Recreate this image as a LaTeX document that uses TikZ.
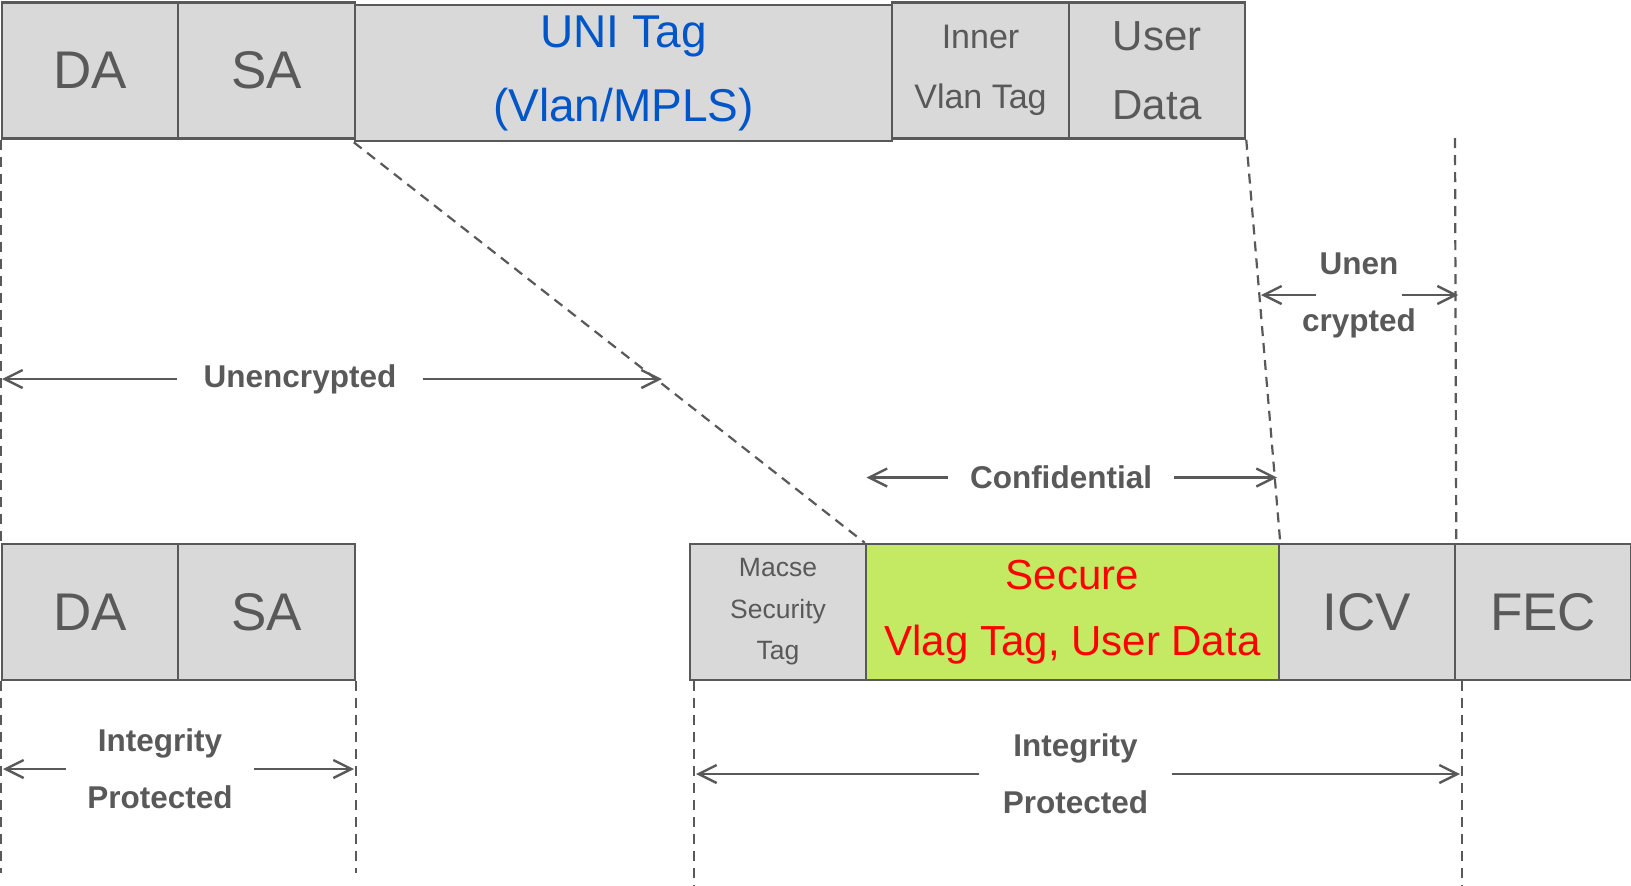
\documentclass[tikz,border=0pt]{standalone}
\usepackage{fontspec}
\setmainfont{Liberation Sans}
\usetikzlibrary{arrows.meta}
\definecolor{linegray}{HTML}{595959}
\definecolor{boxgray}{HTML}{D9D9D9}
\definecolor{secgreen}{HTML}{C3EA62}
\definecolor{uniblue}{HTML}{0055C8}
\begin{document}
\begin{tikzpicture}[x=0.5pt,y=-0.5pt,
	field/.style={draw=linegray,fill=boxgray,line width=1.25pt,inner sep=0pt,minimum height=68pt,text=linegray,align=center},
	big/.style={font=\fontsize{26.5}{30}\selectfont},
	guide/.style={draw=linegray,line width=1.1pt,dash pattern=on 5pt off 3.5pt},
	dimline/.style={draw=linegray,line width=1.2pt,-{Straight Barb[length=9pt,width=9pt]}},
	lbl/.style={text=linegray,font=\bfseries\fontsize{15.75}{28.5}\selectfont,align=center,inner xsep=11pt,inner ysep=0pt}]
		\useasboundingbox (0,0) rectangle (1631,885);
		\node[field,big,minimum width=88pt] (da1) at (90,70.5) {DA};
		\node[field,big,minimum width=88.5pt] (sa1) at (266.5,70.5) {SA};
		\node[field,minimum width=268.5pt,text=uniblue,font=\fontsize{23}{37}\selectfont] (uni) at (623.5,73) {UNI Tag\\(Vlan/MPLS)};
		\node[field,minimum width=88.5pt,font=\fontsize{17}{30}\selectfont] (inner) at (980.5,70.5) {Inner\\Vlan Tag};
		\node[field,minimum width=88pt,font=\fontsize{21}{34.5}\selectfont] (user) at (1157,70.5) {User\\Data};
		\node[field,big,minimum width=88pt] (da2) at (90,612) {DA};
		\node[field,big,minimum width=88.5pt] (sa2) at (266.5,612) {SA};
		\node[field,minimum width=88pt,font=\fontsize{13.25}{20.75}\selectfont] (macse) at (778,612) {Macse\\Security\\Tag};
		\node[field,minimum width=206.5pt,fill=secgreen,text=red,font=\fontsize{21}{33}\selectfont] (secure) at (1072.5,612) {Secure\\Vlag Tag, User Data};
		\node[field,big,minimum width=88pt] (icv) at (1367,612) {ICV};
		\node[field,big,minimum width=88pt] (fec) at (1543,612) {FEC};
		\draw[guide] (uni.south west) -- (secure.north west);
		\draw[guide] (user.south east) -- (secure.north east);
		\draw[guide] (da1.south west) -- (da2.north west);
		\coordinate (icvtop) at (1455,138);
		\draw[guide] (icvtop) -- (icv.north east);
		\draw[guide] (da2.south west) -- ++(0,192);
		\draw[guide] (sa2.south east) -- ++(0,192);
		\draw[guide] ([xshift=2.5pt]macse.south west) -- ++(0,205);
		\draw[guide] ([xshift=3pt]icv.south east) -- ++(0,205);
		\node[lbl,inner xsep=13pt] (unenc) at (300,379) {Unencrypted};
		\node[lbl,inner xsep=-7pt] (unen) at (1359,295) {Unen\\crypted};
		\node[lbl] (conf) at (1061,477.5) {Confidential};
		\node[lbl,inner xsep=10.7pt] (intl) at (160,769) {Integrity\\Protected};
		\node[lbl,inner xsep=11.5pt] (intr) at (1075.5,774) {Integrity\\Protected};
		\coordinate (unencL) at (2,379);
		\coordinate (unencR) at (662,379);
		\coordinate (unenL) at (1261,295);
		\coordinate (unenR) at (1458,295);
		\coordinate (confL) at (866.5,477.5);
		\coordinate (confR) at (1277,477.5);
		\coordinate (intlL) at (3,769);
		\coordinate (intlR) at (354,769);
		\coordinate (intrL) at (696,774);
		\coordinate (intrR) at (1460,774);
		\foreach \lb in {unenc,unen,conf,intl,intr}{
		\draw[dimline] (\lb.west) -- (\lb L);
		\draw[dimline] (\lb.east) -- (\lb R);}
\end{tikzpicture}
\end{document}
